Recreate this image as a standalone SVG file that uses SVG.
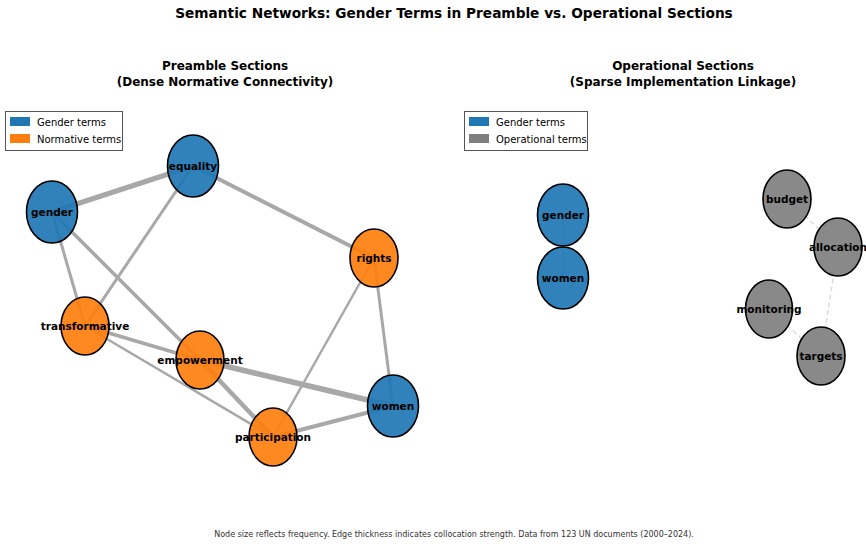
<svg xmlns="http://www.w3.org/2000/svg" width="866" height="544" viewBox="0 0 866 544">
<style>
text{font-family:"DejaVu Sans",Verdana,sans-serif;fill:#000}
.t{font-size:13.7px;font-weight:bold}
.st{font-size:12px;font-weight:bold}
.lbl{font-size:10.5px;font-weight:bold}
.leg{font-size:10px}
.foot{font-size:8px;fill:#333}
.g ellipse{fill:#1f77b4;fill-opacity:0.92;stroke:#000;stroke-width:1.6}
.n ellipse{fill:#ff7f0e;fill-opacity:0.92;stroke:#000;stroke-width:1.6}
.o ellipse{fill:#7f7f7f;fill-opacity:0.92;stroke:#000;stroke-width:1.6}
.e line{stroke:#a8a8a8;stroke-linecap:butt}
.d line{stroke:#dcdcdc;stroke-width:1.5;stroke-dasharray:5,3}
</style>
<rect width="866" height="544" fill="#fff"/>
<text class="t" x="454" y="18" text-anchor="middle">Semantic Networks: Gender Terms in Preamble vs. Operational Sections</text>
<text class="st" x="225" y="70" text-anchor="middle">Preamble Sections</text>
<text class="st" x="225" y="86" text-anchor="middle">(Dense Normative Connectivity)</text>
<text class="st" x="683" y="70" text-anchor="middle">Operational Sections</text>
<text class="st" x="683" y="86" text-anchor="middle">(Sparse Implementation Linkage)</text>

<g id="connectors">
<g class="e">
<line x1="52" y1="212" x2="193" y2="166" stroke-width="5"/>
<line x1="193" y1="166" x2="374" y2="258" stroke-width="4"/>
<line x1="193" y1="166" x2="85" y2="326" stroke-width="3"/>
<line x1="52" y1="212" x2="85" y2="326" stroke-width="3"/>
<line x1="52" y1="212" x2="200" y2="360" stroke-width="3.5"/>
<line x1="85" y1="326" x2="200" y2="360" stroke-width="3.5"/>
<line x1="85" y1="326" x2="273" y2="437" stroke-width="2.5"/>
<line x1="200" y1="360" x2="273" y2="437" stroke-width="4.5"/>
<line x1="200" y1="360" x2="393" y2="406" stroke-width="5.5"/>
<line x1="374" y1="258" x2="273" y2="437" stroke-width="2.5"/>
<line x1="374" y1="258" x2="393" y2="406" stroke-width="3"/>
<line x1="273" y1="437" x2="393" y2="406" stroke-width="4"/>
<line x1="563" y1="215" x2="563" y2="278" stroke-width="1"/>
</g>
<g class="d">
<line x1="787" y1="199" x2="838" y2="247"/>
<line x1="838" y1="247" x2="821" y2="356"/>
<line x1="769" y1="309" x2="821" y2="356"/>
</g>
</g>

<g id="node-equality" class="g"><ellipse cx="193" cy="166" rx="25.5" ry="31"/><text class="lbl" x="193" y="170" text-anchor="middle">equality</text></g>
<g id="node-gender" class="g"><ellipse cx="52" cy="212" rx="25.5" ry="31"/><text class="lbl" x="52" y="216" text-anchor="middle">gender</text></g>
<g id="node-rights" class="n"><ellipse cx="374" cy="258" rx="24" ry="29"/><text class="lbl" x="374" y="262" text-anchor="middle">rights</text></g>
<g id="node-transformative" class="n"><ellipse cx="85" cy="326" rx="24" ry="29"/><text class="lbl" x="85" y="330" text-anchor="middle">transformative</text></g>
<g id="node-empowerment" class="n"><ellipse cx="200" cy="360" rx="24" ry="29"/><text class="lbl" x="200" y="364" text-anchor="middle">empowerment</text></g>
<g id="node-women" class="g"><ellipse cx="393" cy="406" rx="25.5" ry="31"/><text class="lbl" x="393" y="410" text-anchor="middle">women</text></g>
<g id="node-participation" class="n"><ellipse cx="273" cy="437" rx="24" ry="29"/><text class="lbl" x="273" y="441" text-anchor="middle">participation</text></g>

<g id="node-op-gender" class="g"><ellipse cx="563" cy="215" rx="25.5" ry="31"/><text class="lbl" x="563" y="219" text-anchor="middle">gender</text></g>
<g id="node-op-women" class="g"><ellipse cx="563" cy="278" rx="25.5" ry="31"/><text class="lbl" x="563" y="282" text-anchor="middle">women</text></g>
<g id="node-budget" class="o"><ellipse cx="787" cy="199" rx="24" ry="29"/><text class="lbl" x="787" y="203" text-anchor="middle">budget</text></g>
<g id="node-allocation" class="o"><ellipse cx="838" cy="247" rx="24" ry="29"/><text class="lbl" x="838" y="251" text-anchor="middle">allocation</text></g>
<g id="node-monitoring" class="o"><ellipse cx="769" cy="309" rx="23.5" ry="29"/><text class="lbl" x="769" y="313" text-anchor="middle">monitoring</text></g>
<g id="node-targets" class="o"><ellipse cx="821" cy="356" rx="24" ry="29"/><text class="lbl" x="821" y="360" text-anchor="middle">targets</text></g>

<g id="legend-left">
<rect x="5.5" y="111.5" width="117" height="39" fill="#fff" stroke="#555" stroke-width="1"/>
<rect x="10" y="117" width="20" height="9" fill="#1f77b4"/>
<text class="leg" x="37" y="125.5">Gender terms</text>
<rect x="10" y="134" width="20" height="9" fill="#ff7f0e"/>
<text class="leg" x="37" y="142.5">Normative terms</text>
</g>
<g id="legend-right">
<rect x="464.5" y="111.5" width="123" height="39" fill="#fff" stroke="#555" stroke-width="1"/>
<rect x="469" y="117" width="20" height="9" fill="#1f77b4"/>
<text class="leg" x="496" y="125.5">Gender terms</text>
<rect x="469" y="134" width="20" height="9" fill="#7f7f7f"/>
<text class="leg" x="496" y="142.5">Operational terms</text>
</g>

<text class="foot" x="454" y="537" text-anchor="middle">Node size reflects frequency. Edge thickness indicates collocation strength. Data from 123 UN documents (2000–2024).</text>
</svg>
